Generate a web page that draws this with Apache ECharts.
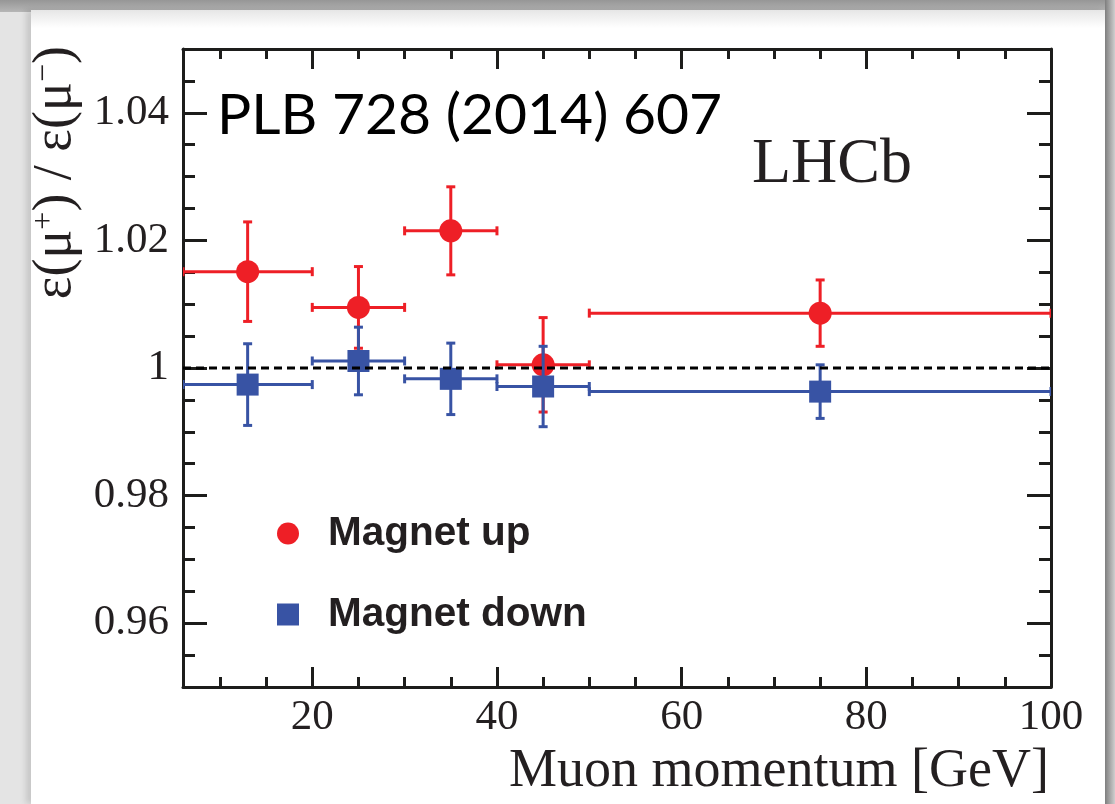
<!DOCTYPE html>
<html>
<head>
<meta charset="utf-8">
<script src="https://cdn.jsdelivr.net/npm/echarts@6/dist/echarts.min.js"></script>
<style>
  html, body { margin: 0; padding: 0; }
  #wrap { position: relative; width: 1115px; height: 804px; background: #e4e4e4; overflow: hidden; }
  #topband { position: absolute; left: 0; top: 0; width: 1115px; height: 12px; background: linear-gradient(#969696, #b6b6b6); }
  #panel { position: absolute; left: 31px; top: 10px; width: 1075px; height: 794px;
           background: linear-gradient(#e6e6e6 0px, #ffffff 18px); box-shadow: -5px 0 6px rgba(0,0,0,0.13); }
  #rightband { position: absolute; left: 1105px; top: 0; width: 10px; height: 804px; background: linear-gradient(to right, #7e7e7e, #cfcfcf); }
  #chart { position: absolute; left: 0; top: 0; width: 1115px; height: 804px; }
</style>
</head>
<body>
<div id="wrap">
  <div id="topband"></div>
  <div id="panel"></div>
  <div id="rightband"></div>
  <div id="chart"></div>
</div>
<script>
// ---------------- data ----------------
const X_MIN = 6, X_MAX = 100;
const Y_MIN = 0.95, Y_MAX = 1.05;
const xMajorTicks = [20, 40, 60, 80, 100];
const xMinorTicks = [10, 15, 25, 30, 35, 45, 50, 55, 65, 70, 75, 85, 90, 95];
const yMajorTicks = [0.96, 0.98, 1, 1.02, 1.04];
const yMinorTicks = [0.955, 0.965, 0.97, 0.975, 0.985, 0.99, 0.995, 1.005, 1.01, 1.015, 1.025, 1.03, 1.035, 1.045];

// momentum bins (GeV)
const binCenter = [13, 25, 35, 45, 75];
const binLow    = [6, 20, 30, 40, 50];
const binHigh   = [20, 30, 40, 50, 100];

// Magnet up
const upValue = [1.0151, 1.0095, 1.0215, 1.0005, 1.0086];
const upErr   = [0.0078, 0.0064, 0.0069, 0.0074, 0.0052];
// Magnet down
const downValue = [0.9974, 1.0011, 0.9983, 0.9971, 0.9963];
const downErr   = [0.0064, 0.0053, 0.0056, 0.0063, 0.0042];

const refLineValue = 1;

const seriesNames = ['Magnet up', 'Magnet down'];
const colorUp = '#ee1f26';
const colorDown = '#3853a4';

// ---------------- chart ----------------
function buildData(vals, errs) {
  return binCenter.map((x, i) => [x, vals[i], binLow[i], binHigh[i], vals[i] - errs[i], vals[i] + errs[i]]);
}

function makeRender(color, shape) {
  return function (params, api) {
    const x = api.value(0), y = api.value(1);
    const c = api.coord([x, y]);
    const pl = api.coord([api.value(2), y]);
    const ph = api.coord([api.value(3), y]);
    const pb = api.coord([x, api.value(4)]);
    const pt = api.coord([x, api.value(5)]);
    const lw = 3, cap = 4.5, r = 11.5;
    const st = { stroke: color, lineWidth: lw };
    const children = [
      { type: 'line', shape: { x1: pl[0], y1: c[1], x2: ph[0], y2: c[1] }, style: st },
      { type: 'line', shape: { x1: pl[0], y1: c[1] - cap, x2: pl[0], y2: c[1] + cap }, style: st },
      { type: 'line', shape: { x1: ph[0], y1: c[1] - cap, x2: ph[0], y2: c[1] + cap }, style: st },
      { type: 'line', shape: { x1: c[0], y1: pb[1], x2: c[0], y2: pt[1] }, style: st },
      { type: 'line', shape: { x1: c[0] - cap, y1: pb[1], x2: c[0] + cap, y2: pb[1] }, style: st },
      { type: 'line', shape: { x1: c[0] - cap, y1: pt[1], x2: c[0] + cap, y2: pt[1] }, style: st }
    ];
    if (shape === 'circle') {
      children.push({ type: 'circle', shape: { cx: c[0], cy: c[1], r: r }, style: { fill: color } });
    } else {
      children.push({ type: 'rect', shape: { x: c[0] - 11, y: c[1] - 11, width: 22, height: 22 }, style: { fill: color } });
    }
    const cs = params.coordSys;
    return {
      type: 'group',
      children: children,
      clipPath: { type: 'rect', shape: { x: cs.x, y: cs.y, width: cs.width, height: cs.height } }
    };
  };
}

const axisColor = '#1d1d1b';
const labelFont = { fontFamily: 'Liberation Serif', fontSize: 43, color: '#231f20' };

function xAxisDef(position, ticks, len, showLine, showLabel) {
  return {
    type: 'value', gridIndex: 0, position: position, min: X_MIN, max: X_MAX,
    axisLine: { show: showLine, onZero: false, lineStyle: { color: axisColor, width: 3 } },
    axisTick: { show: true, inside: true, length: len, customValues: ticks, lineStyle: { color: axisColor, width: 3 } },
    axisLabel: Object.assign({ show: showLabel, customValues: ticks, margin: 9 }, labelFont),
    splitLine: { show: false }, minorTick: { show: false }
  };
}
function yAxisDef(position, ticks, len, showLine, showLabel) {
  return {
    type: 'value', gridIndex: 0, position: position, min: Y_MIN, max: Y_MAX,
    axisLine: { show: showLine, onZero: false, lineStyle: { color: axisColor, width: 3 } },
    axisTick: { show: true, inside: true, length: len, customValues: ticks, lineStyle: { color: axisColor, width: 3 } },
    axisLabel: Object.assign({ show: showLabel, customValues: ticks, margin: 14,
      formatter: v => String(+(+v).toFixed(3)) }, labelFont),
    splitLine: { show: false }, minorTick: { show: false }
  };
}

const chart = echarts.init(document.getElementById('chart'), null, { renderer: 'canvas' });
const option = {
  animation: false,
  backgroundColor: 'transparent',
  grid: { left: 183, right: 64, top: 49, bottom: 117, containLabel: false, outerBoundsMode: 'none' },
  xAxis: [
    xAxisDef('bottom', xMajorTicks, 20, true, true),
    xAxisDef('bottom', xMinorTicks, 10, false, false),
    xAxisDef('top', xMajorTicks, 20, true, false),
    xAxisDef('top', xMinorTicks, 10, false, false)
  ],
  yAxis: [
    yAxisDef('left', yMajorTicks, 24, true, true),
    yAxisDef('left', yMinorTicks, 12, false, false),
    yAxisDef('right', yMajorTicks, 24, true, false),
    yAxisDef('right', yMinorTicks, 12, false, false)
  ],
  title: [
    { text: 'PLB 728 (2014) 607', left: 217, top: 87, padding: 0,
      textStyle: { fontFamily: 'Lato', fontSize: 57, fontWeight: 'normal', color: '#000000' } },
    { text: 'LHCb', left: 752, top: 133, padding: 0,
      textStyle: { fontFamily: 'Liberation Serif', fontSize: 64, fontWeight: 'normal', color: '#231f20' } }
  ],
  legend: {
    data: [{ name: seriesNames[0], icon: 'circle' }, { name: seriesNames[1], icon: 'rect' }],
    orient: 'vertical', left: 277, top: 513, padding: 0,
    itemWidth: 22, itemHeight: 22, itemGap: 40, selectedMode: false,
    textStyle: { fontFamily: 'Liberation Sans', fontWeight: 'bold', fontSize: 40.5, color: '#231f20',
                 lineHeight: 40, padding: [0, 0, 0, 24] }
  },
  graphic: [
    { type: 'text', x: 56, y: 46, rotation: Math.PI / 2, z: 10,
      style: {
        text: '{t|ε(μ}{s|+}{t|) / ε(μ}{s|−}{t|)}',
        align: 'right', textAlign: 'right', verticalAlign: 'middle', textVerticalAlign: 'middle',
        fill: '#231f20',
        rich: {
          t: { fontFamily: 'Liberation Serif', fontSize: 54, fill: '#231f20', color: '#231f20' },
          s: { fontFamily: 'Liberation Serif', fontSize: 32, fill: '#231f20', color: '#231f20', verticalAlign: 'top' }
        }
      } },
    { type: 'text', x: 1049, y: 772, z: 10,
      style: { text: 'Muon momentum [GeV]', fontFamily: 'Liberation Serif', fontSize: 54, fill: '#231f20',
               align: 'right', textAlign: 'right', verticalAlign: 'middle', textVerticalAlign: 'middle' } }
  ],
  series: [
    { name: seriesNames[0], type: 'custom', xAxisIndex: 0, yAxisIndex: 0, z: 3,
      itemStyle: { color: colorUp }, encode: { x: [0, 2, 3], y: [1, 4, 5] },
      renderItem: makeRender(colorUp, 'circle'), data: buildData(upValue, upErr) },
    { name: seriesNames[1], type: 'custom', xAxisIndex: 0, yAxisIndex: 0, z: 4,
      itemStyle: { color: colorDown }, encode: { x: [0, 2, 3], y: [1, 4, 5] },
      renderItem: makeRender(colorDown, 'rect'), data: buildData(downValue, downErr) },
    { name: 'reference', type: 'line', xAxisIndex: 0, yAxisIndex: 0, z: 5, silent: true,
      symbol: 'none', data: [[X_MIN, refLineValue], [X_MAX, refLineValue]],
      lineStyle: { color: '#000000', width: 3, type: [8, 5] } }
  ]
};
chart.setOption(option);
</script>
</body>
</html>
